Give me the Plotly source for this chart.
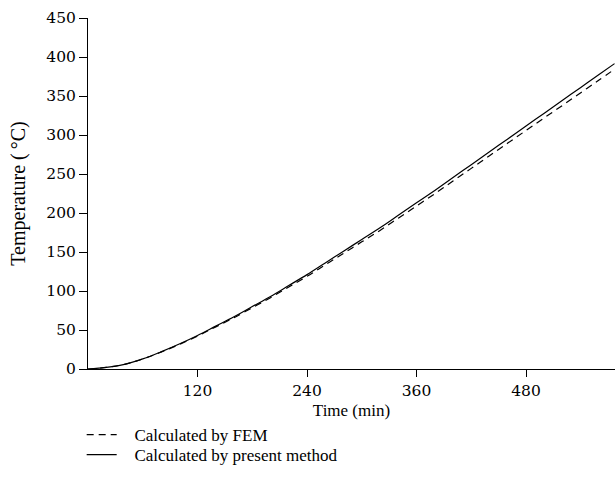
import plotly.graph_objects as go

time_min = [0, 20, 40, 60, 80, 100, 120, 140, 160, 180, 200, 220, 240, 260, 280, 300,
            320, 340, 360, 380, 400, 420, 440, 460, 480, 500, 520, 540, 560, 577]
present = [0, 2, 6, 13, 22, 32, 43, 55, 67, 80, 93, 107, 121, 136, 151, 166,
           181, 197, 213, 229, 245.5, 262, 278.5, 295, 311.5, 328, 344.5, 361, 377.5, 391.5]
fem = [0, 2, 6, 12.8, 21.6, 31.4, 42.2, 54, 65.8, 78.6, 91.4, 105.2, 118.8, 133.6, 148.3, 163,
       177.7, 193.4, 209, 224.7, 241, 257.2, 273.4, 289.6, 305.8, 322, 338, 354.3, 370.5, 384.3]

x_ticks = [120, 240, 360, 480]
y_ticks = [0, 50, 100, 150, 200, 250, 300, 350, 400, 450]

font = dict(family="Liberation Serif, Times New Roman, serif", size=17, color="#000")
tickfont = dict(family="DejaVu Serif, serif", size=15.5, color="#000")
nb = "\u00a0\u00a0\u00a0"

fig = go.Figure()
fig.add_trace(go.Scatter(x=time_min, y=fem, mode="lines", name=nb + "Calculated by FEM",
                         line=dict(color="#000", width=1.2, dash="7px,5px"), line_shape="spline",
                         legend="legend"))
fig.add_trace(go.Scatter(x=time_min, y=present, mode="lines", name=nb + "Calculated by present method",
                         line=dict(color="#000", width=1.2), line_shape="spline",
                         legend="legend2"))

plot_h = 501 - 18 - 132
row1_top = 417
row2_top = 437

fig.update_layout(
    width=615, height=501,
    margin=dict(l=88, r=0, t=18, b=132),
    paper_bgcolor="white", plot_bgcolor="white",
    font=font,
    showlegend=True,
    legend=dict(x=-0.012, y=-(row1_top - 369) / plot_h, xanchor="left", yanchor="top",
                bgcolor="rgba(0,0,0,0)", font=font),
    legend2=dict(x=-0.012, y=-(row2_top - 369) / plot_h, xanchor="left", yanchor="top",
                 bgcolor="rgba(0,0,0,0)", font=font),
    xaxis=dict(range=[0, 577.5], tickvals=x_ticks, ticks="outside", ticklen=7, tickcolor="#000",
               tickfont=tickfont,
               showline=True, linecolor="#000", linewidth=1, showgrid=False, zeroline=False,
               title=dict(text="Time (min)", font=font, standoff=5)),
    yaxis=dict(range=[0, 450], tickvals=y_ticks, ticks="outside", ticklen=8, tickcolor="#000",
               tickfont=tickfont,
               showline=True, linecolor="#000", linewidth=1, showgrid=False, zeroline=False,
               title=dict(text="Temperature (\u2009°C)", font=dict(font, size=20), standoff=15)),
)

fig.write_html("out.html")
